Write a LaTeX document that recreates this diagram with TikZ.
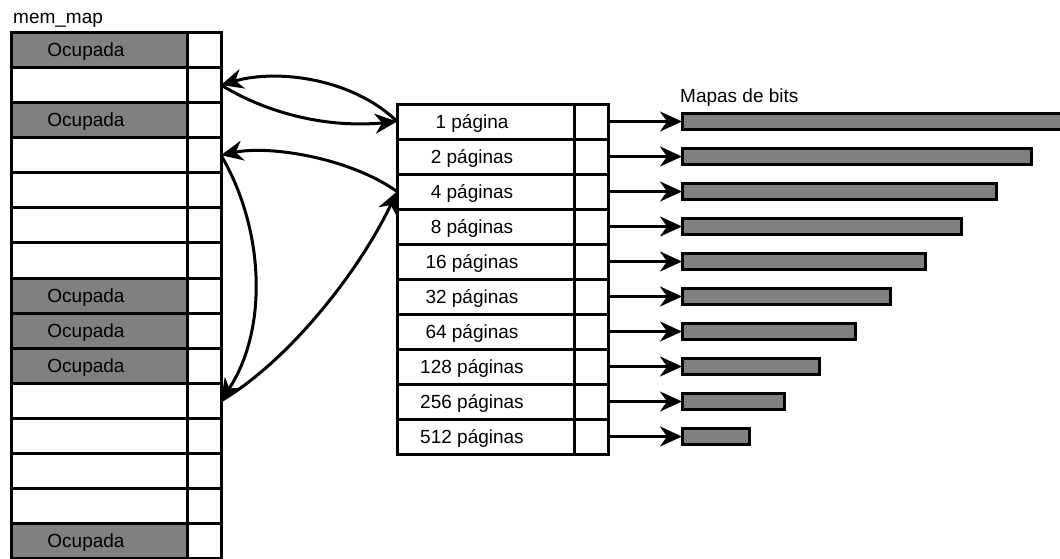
\documentclass[tikz,border=0pt]{standalone}
\usepackage{fontspec}
\setmainfont{Liberation Sans}
\usetikzlibrary{arrows.meta}
\definecolor{busygray}{RGB}{128,128,128}
\begin{document}
\begin{tikzpicture}[x=1pt,y=-1pt,
  txt/.style={font=\fontsize{19}{23}\selectfont, inner sep=0pt, anchor=base},
  cell/.style={draw=black, line width=3pt, inner sep=0pt, outer sep=0pt, anchor=north west},
  bar/.style={draw=black, line width=3pt, fill=busygray, inner sep=0pt, outer sep=0pt,
              anchor=west, minimum height=16pt},
  link/.style={line width=3pt, -{Stealth[length=22pt,width=20pt,inset=7pt]}}]
\useasboundingbox (0,0) rectangle (1060,558);

% page map: one row per page frame
\node[txt, anchor=base west] (title) at (13,23) {mem\_map};
\foreach \i/\c in {0/busygray,1/white,2/busygray,3/white,4/white,5/white,6/white,
                   7/busygray,8/busygray,9/busygray,10/white,11/white,12/white,13/white,14/busygray}{
  \node[cell, fill=\c, minimum width=176pt, minimum height=35.1pt] (m\i) at (11,{32.3+35.1*\i}) {};
  \node[cell, fill=white, minimum width=34pt, minimum height=35.1pt] (f\i) at (187,{32.3+35.1*\i}) {};
}
\foreach \i in {0,2,7,8,9,14}
  \node[txt] (o\i) at (86,{32.3+35.1*\i+17.55+6.5}) {Ocupada};

% free lists by block size, each with its bitmap
\node[txt, anchor=base west] (bits) at (680,102) {Mapas de bits};
\foreach \k/\t in {0/1 página,1/2 páginas,2/4 páginas,3/8 páginas,4/16 páginas,
                   5/32 páginas,6/64 páginas,7/128 páginas,8/256 páginas,9/512 páginas}{
  \node[cell, fill=white, minimum width=177pt, minimum height=35pt] (p\k) at (397,{104+35*\k}) {};
  \node[cell, fill=white, minimum width=34pt, minimum height=35pt] (q\k) at (574,{104+35*\k}) {};
  \node[txt] (t\k) at (472,{104+35*\k+17.5+6.5}) {\t};
  \node[bar, minimum width={385pt-35.3pt*\k}] (b\k) at (682,{121.5+35*\k}) {};
  \draw[link] (q\k.east) -- (b\k.west);
}

% links between free blocks and the lists
\draw[link] (p0.west) .. controls (355,80) and (280,68) .. (f1.east);
\draw[link] (f1.east) .. controls (270,115) and (330,128) .. (p0.west);
\draw[link] (p2.west) .. controls (350,158) and (270,145) .. (f3.east);
\draw[link] (f3.east) .. controls (265,230) and (268,330) .. (f10.east);
\draw[link] (f10.east) .. controls (290,360) and (360,270) .. (p2.west);
\end{tikzpicture}
\end{document}
